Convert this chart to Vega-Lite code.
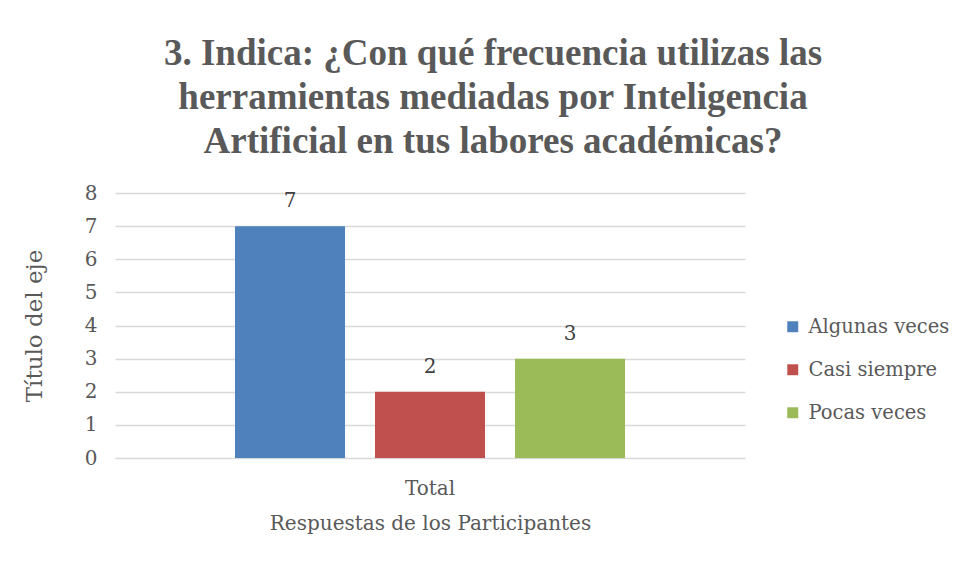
{
  "$schema": "https://vega.github.io/schema/vega-lite/v6.json",
  "width": 630,
  "height": 265,
  "padding": {"left": 23, "top": 35, "right": 10, "bottom": 10},
  "background": "white",
  "title": {
    "text": ["3. Indica: ¿Con qué frecuencia utilizas las", "herramientas mediadas por Inteligencia", "Artificial en tus labores académicas?"],
    "font": "Liberation Serif",
    "fontSize": 37,
    "fontWeight": "bold",
    "color": "#595959",
    "lineHeight": 44,
    "anchor": "middle",
    "dx": 63,
    "offset": 22
  },
  "data": {
    "values": [
      {"grupo": "Total", "serie": "Algunas veces", "valor": 7},
      {"grupo": "Total", "serie": "Casi siempre", "valor": 2},
      {"grupo": "Total", "serie": "Pocas veces", "valor": 3}
    ]
  },
  "encoding": {
    "x": {
      "field": "grupo",
      "type": "nominal",
      "scale": {"paddingInner": 0, "paddingOuter": 0.25},
      "axis": {
        "title": "Respuestas de los Participantes",
        "labelAngle": 0,
        "ticks": false,
        "domain": true,
        "domainColor": "#d9d9d9",
        "labelFont": "DejaVu Serif",
        "labelFontSize": 20,
        "labelColor": "#595959",
        "labelPadding": 20,
        "titleFont": "DejaVu Serif",
        "titleFontSize": 20,
        "titleFontWeight": "normal",
        "titleColor": "#595959",
        "titlePadding": 15
      }
    },
    "xOffset": {
      "field": "serie",
      "type": "nominal",
      "scale": {"paddingInner": 0.214, "paddingOuter": 0.107}
    },
    "y": {
      "field": "valor",
      "type": "quantitative",
      "scale": {"domain": [0, 8]},
      "axis": {
        "title": "Título del eje",
        "values": [0, 1, 2, 3, 4, 5, 6, 7, 8],
        "ticks": false,
        "domain": false,
        "gridColor": "#d9d9d9",
        "gridWidth": 1.5,
        "labelFont": "DejaVu Serif",
        "labelFontSize": 20,
        "labelColor": "#595959",
        "labelPadding": 18,
        "titleFont": "DejaVu Serif",
        "titleFontSize": 23,
        "titleFontWeight": "normal",
        "titleColor": "#595959",
        "titlePadding": 38
      }
    }
  },
  "layer": [
    {
      "mark": {"type": "bar"},
      "encoding": {
        "color": {
          "field": "serie",
          "type": "nominal",
          "scale": {"domain": ["Algunas veces", "Casi siempre", "Pocas veces"], "range": ["#4f81bd", "#c0504d", "#9bbb59"]},
          "legend": {
            "title": null,
            "orient": "none",
            "legendX": 668,
            "legendY": 124,
            "symbolType": "square",
            "symbolSize": 120,
            "symbolStrokeWidth": 0,
            "labelFont": "DejaVu Serif",
            "labelFontSize": 19.5,
            "labelColor": "#595959",
            "labelOffset": 6,
            "rowPadding": 22
          }
        }
      }
    },
    {
      "mark": {"type": "text", "baseline": "bottom", "dy": -15, "font": "DejaVu Serif", "fontSize": 20, "color": "#404040"},
      "encoding": {
        "text": {"field": "valor", "type": "quantitative"}
      }
    }
  ],
  "config": {
    "view": {"stroke": null}
  }
}
